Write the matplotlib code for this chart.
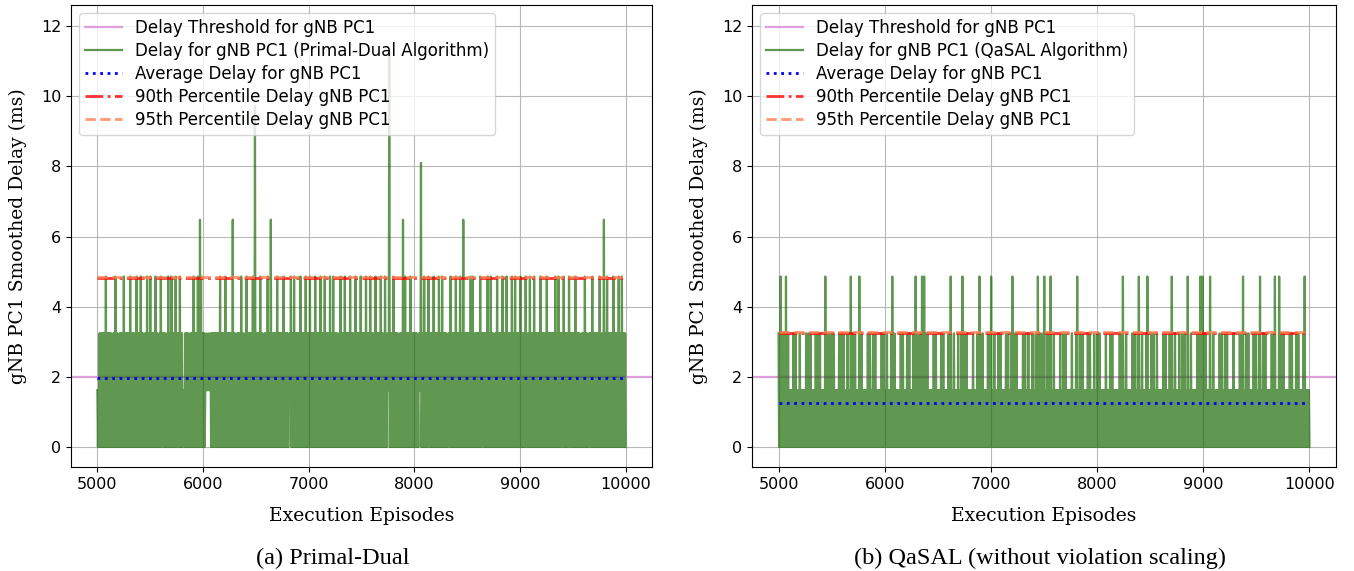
import numpy as np
import matplotlib
matplotlib.use('Agg')
import matplotlib.pyplot as plt

plt.rcParams['path.simplify'] = False

# delay levels seen in the trace (ms), indexed by the digits below
levels = [0.0, 1.62, 3.24, 4.86, 6.48, 8.10, 9.72, 11.30]

episode_start = 5000
episode_end = 10000

# per ~10-episode bin: highest level reached (digit = index into levels),
# read off the picture
primal_dual_peaks = (
    "1122222232" "2222122322" "1222232222" "2322221322" "2322122322"
    "3222232212" "3222212322" "3222322232" "2112222122" "2322232432"
    "2212121222" "2222223222" "2322222242" "2122223221" "2322222326"
    "2222322122" "2322412222" "3222223222" "2123223222" "2232221322"
    "2322223222" "2322232222" "3223222212" "3222322223" "2221322223"
    "2222322232" "2213222232" "2132127222" "3222212224" "2322223222"
    "2221215123" "2223222232" "2223223222" "2122322223" "2223224222"
    "2223231222" "2232222223" "2232212232" "2223222322" "2232232222"
    "3222131223" "2223222223" "2222132222" "2223223222" "2322223222"
    "2232222122" "2322122232" "2222131224" "2232222232" "2223223222"
)

qasal_peaks = (
    "2232121312" "1111212111" "2111112121" "2111121212" "1111312121"
    "2121111212" "1211121131" "2121113121" "1111212112" "1211111212"
    "1121112312" "1111121211" "1212111213" "2121232321" "2111112121"
    "1112121111" "2131121112" "1123121211" "1112111213" "1121111212"
    "3112111212" "1111212112" "3121211111" "2121121112" "1121312121"
    "3112123112" "1111121121" "2111112111" "2311212111" "1212111211"
    "2121111121" "1121211111" "1212311211" "1112121123" "1121112311"
    "1212112111" "1121211121" "3112111211" "2121131121" "1111212323"
    "2121113112" "1111121211" "2121111121" "1111212311" "2121111212"
    "1123112121" "1111212311" "1312121111" "1212111212" "1111231111"
)

# bins where the trace does not drop back to 0 but stays at 1.62 ms
primal_dual_floor_gaps = [61, 75, 81, 102, 103, 104, 105, 106, 110, 181, 182,
                          274, 275, 304, 305, 313, 332, 364, 405, 439, 446, 465]
qasal_floor_gaps = []

threshold = 2.0
avg_delay = [1.97, 1.245]
p90_delay = [4.81, 3.25]
p95_delay = [4.86, 3.28]

algorithms = ['Primal-Dual', 'QaSAL']
captions = ['(a) Primal-Dual', '(b) QaSAL (without violation scaling)']


def build_trace(peaks, floor_gaps):
    highs = [levels[int(c)] for c in peaks]
    lows = [levels[1] if i in floor_gaps else levels[0] for i in range(len(highs))]
    values = []
    for hi, lo in zip(highs, lows):
        values += [hi, lo]
    episodes = np.linspace(episode_start, episode_end, len(values))
    return episodes, values


def draw_panel(ax, peaks, floor_gaps, algo, avg, p90, p95):
    episodes, values = build_trace(peaks, floor_gaps)

    ax.axhline(threshold, color='plum', lw=1.6, label='Delay Threshold for gNB PC1')
    ax.plot(episodes, values, color='#1c6c08', alpha=0.7, lw=1.6,
            label='Delay for gNB PC1 (%s Algorithm)' % algo)
    ax.plot([episode_start, episode_end], [avg, avg], color='blue', ls=':', lw=2,
            label='Average Delay for gNB PC1')
    ax.plot([episode_start, episode_end], [p90, p90], color='red', ls='-.', lw=2,
            alpha=0.8, label='90th Percentile Delay gNB PC1')
    ax.plot([episode_start, episode_end], [p95, p95], color='coral', ls='--', lw=2,
            alpha=0.8, label='95th Percentile Delay gNB PC1')

    ax.set_xlim(4750, 10250)
    ax.set_ylim(-0.57, 12.6)
    ax.set_xticks([5000, 6000, 7000, 8000, 9000, 10000])
    ax.set_yticks([0, 2, 4, 6, 8, 10, 12])
    ax.tick_params(labelsize=11.5)
    ax.grid(True, color='#b8b8b8', lw=0.8)

    ax.set_xlabel('Execution Episodes', family='DejaVu Serif', fontsize=13.5, labelpad=11)
    ax.set_ylabel('gNB PC1 Smoothed Delay (ms)', family='DejaVu Serif', fontsize=13.5, labelpad=10)
    ax.legend(loc='upper left', fontsize=12, labelspacing=0.3, borderpad=0.35,
              handlelength=2.2, handletextpad=0.8)


fig = plt.figure(figsize=(13.54, 5.71), dpi=100)
ax1 = fig.add_axes([71 / 1354, 1 - 467 / 571, 581 / 1354, 462 / 571])
ax2 = fig.add_axes([752 / 1354, 1 - 467 / 571, 584 / 1354, 462 / 571])

draw_panel(ax1, primal_dual_peaks, primal_dual_floor_gaps, algorithms[0],
           avg_delay[0], p90_delay[0], p95_delay[0])
draw_panel(ax2, qasal_peaks, qasal_floor_gaps, algorithms[1],
           avg_delay[1], p90_delay[1], p95_delay[1])

fig.text(333 / 1354, 1 - 558 / 571, captions[0], family='Liberation Serif', fontsize=17.5,
         ha='center', va='center')
fig.text(1040 / 1354, 1 - 558 / 571, captions[1], family='Liberation Serif', fontsize=17.5,
         ha='center', va='center')

fig.savefig('out.png', dpi=100)
